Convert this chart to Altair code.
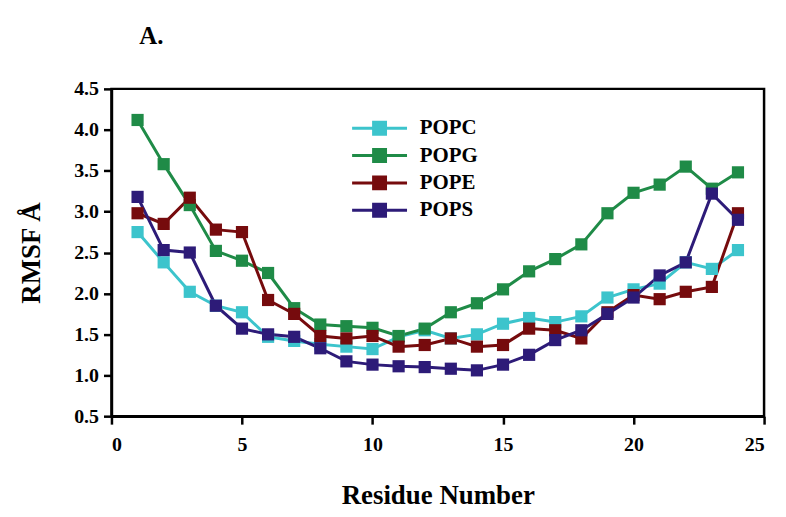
import altair as alt
import pandas as pd

residues = list(range(1, 25))
series_names = ["POPC", "POPG", "POPE", "POPS"]
popc = [2.75, 2.38, 2.02, 1.85, 1.77, 1.47, 1.42, 1.38, 1.35, 1.32, 1.47, 1.55,
        1.45, 1.50, 1.63, 1.70, 1.65, 1.72, 1.95, 2.05, 2.12, 2.38, 2.30, 2.53]
popg = [4.12, 3.58, 3.08, 2.52, 2.40, 2.25, 1.82, 1.62, 1.60, 1.58, 1.48, 1.57,
        1.77, 1.88, 2.05, 2.27, 2.42, 2.60, 2.98, 3.23, 3.33, 3.55, 3.28, 3.48]
pope = [2.98, 2.85, 3.17, 2.78, 2.75, 1.92, 1.75, 1.48, 1.45, 1.48, 1.35, 1.37,
        1.45, 1.35, 1.37, 1.57, 1.55, 1.45, 1.77, 1.98, 1.93, 2.02, 2.08, 2.98]
pops = [3.18, 2.53, 2.50, 1.85, 1.57, 1.50, 1.47, 1.33, 1.17, 1.13, 1.11, 1.10,
        1.08, 1.06, 1.13, 1.25, 1.43, 1.55, 1.75, 1.95, 2.22, 2.38, 3.22, 2.90]
colors = ["#3cc4cc", "#1f8b47", "#760b0d", "#2d1b78"]

rows = []
for name, vals in zip(series_names, [popc, popg, pope, pops]):
    for r, v in zip(residues, vals):
        rows.append({"Residue": r, "RMSF": v, "Lipid": name})
df = pd.DataFrame(rows)

font = "Liberation Serif"
color = alt.Color(
    "Lipid:N",
    scale=alt.Scale(domain=series_names, range=colors),
    sort=series_names,
    legend=alt.Legend(
        title=None,
        orient="none",
        legendX=256,
        legendY=26,
        symbolType="M-2.3,0H2.3M-0.5,-0.5H0.5V0.5H-0.5Z",
        symbolSize=576,
        symbolStrokeWidth=3,
        symbolOffset=0,
        labelFont=font,
        labelFontSize=21,
        labelFontWeight="bold",
        labelColor="black",
        labelOffset=27,
        rowPadding=1.5,
    ),
)

x = alt.X("Residue:Q", scale=alt.Scale(domain=[0, 25], nice=False),
          axis=alt.Axis(values=[0, 5, 10, 15, 20, 25], title="Residue Number",
                        titlePadding=29))
y = alt.Y("RMSF:Q", scale=alt.Scale(domain=[0.5, 4.5], nice=False, zero=False),
          axis=alt.Axis(values=[0.5, 1.0, 1.5, 2.0, 2.5, 3.0, 3.5, 4.0, 4.5],
                        format=".1f", title="RMSF Å", titlePadding=28))

base = alt.Chart(df)
lines = base.mark_line(strokeWidth=3).encode(x=x, y=y, color=color, detail="Lipid:N")
points = base.mark_point(shape="square", filled=True, size=150, opacity=1).encode(
    x=x, y=y, color=color)

chart = (lines + points).properties(
    width=656,
    height=329,
    autosize=alt.AutoSizeParams(type="none"),
    padding={"left": 104, "top": 80, "right": 14, "bottom": 92},
    title=alt.TitleParams("A.", anchor="start", frame="group", dx=28, offset=30,
                          font=font, fontSize=25, fontWeight="bold", color="black"),
).configure_view(
    stroke="black", strokeWidth=2.5
).configure_axis(
    domainColor="black", domainWidth=2.5, tickColor="black", tickWidth=2.5,
    tickSize=8, grid=False,
    labelFont=font, labelFontSize=20, labelFontWeight="bold", labelColor="black",
    labelPadding=5,
    titleFont=font, titleFontSize=27, titleFontWeight="bold", titleColor="black",
).configure_axisX(labelPadding=10)

chart.save("out.html", embed_options={"renderer": "svg", "actions": False})
